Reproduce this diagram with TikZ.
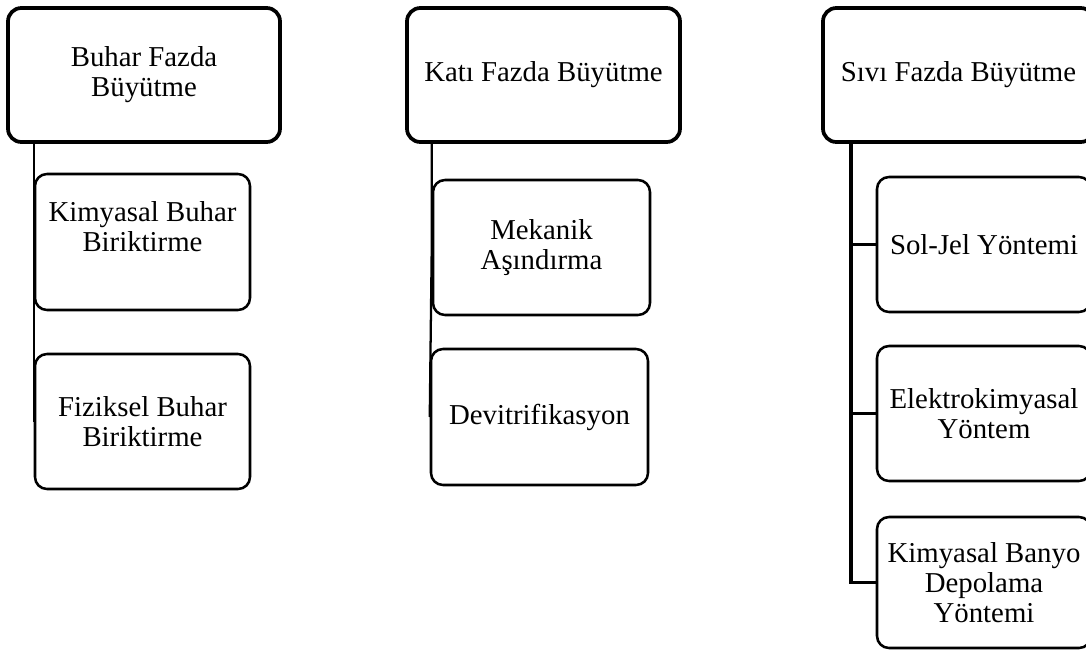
\documentclass[tikz,border=0pt]{standalone}
\usepackage{fontspec}
\setmainfont{Liberation Serif}
\begin{document}
\begin{tikzpicture}[x=0.75pt,y=-0.75pt,
  base/.style={draw=black, fill=white, inner sep=0pt, align=center,
    font=\fontsize{21.6}{22.5}\selectfont, text=black},
  sz/.style 2 args={minimum width=#1*0.75pt, minimum height=#2*0.75pt},
  topbox/.style={base, line width=2.8pt, rounded corners=10pt},
  childbox/.style={base, line width=1.9pt, rounded corners=9pt},
  conn/.style={draw=black, line width=1.7pt},
  connthick/.style={draw=black, line width=2.4pt}]
\useasboundingbox (0,0) rectangle (1086,650);
\clip (0,0) rectangle (1086,650);

% left group
\node[topbox, sz={272}{134}] (t1) at (144,75) {Buhar Fazda\\Büyütme};
\node[childbox, sz={215}{136}] (a1) at (142.5,242) {Kimyasal Buhar\\Biriktirme\\~};
\node[childbox, sz={215}{135}] (a2) at (142.5,421.5) {Fiziksel Buhar\\Biriktirme};

% middle group
\node[topbox, sz={273}{134}] (t2) at (543.5,75) {Katı Fazda Büyütme};
\node[childbox, sz={217}{135}] (b1) at (541.5,247.5) {Mekanik\\Aşındırma};
\node[childbox, sz={217}{136}] (b2) at (539.5,417) {Devitrifikasyon};

% right group
\node[topbox, sz={271}{134}] (t3) at (958.5,75) {Sıvı Fazda Büyütme};
\node[childbox, sz={214}{135}] (c1) at (984,244.5) {Sol-Jel Yöntemi};
\node[childbox, sz={214}{135}] (c2) at (984,413.5) {Elektrokimyasal\\Yöntem};
\node[childbox, sz={214}{131}] (c3) at (984,582.5) {Kimyasal Banyo\\Depolama\\Yöntemi};

% connectors
\draw[conn] (a1.west |- t1.south) -- (a1.west) -- (a2.west);
\draw[conn] (b1.west |- t2.south) -- (b1.west) -- (b2.west);
\coordinate (cv) at (851,0);
\draw[connthick] (cv |- t3.south) -- (cv |- c3.west) -- (c3.west);
\draw[connthick] (cv |- c1.west) -- (c1.west);
\draw[connthick] (cv |- c2.west) -- (c2.west);
\end{tikzpicture}
\end{document}
